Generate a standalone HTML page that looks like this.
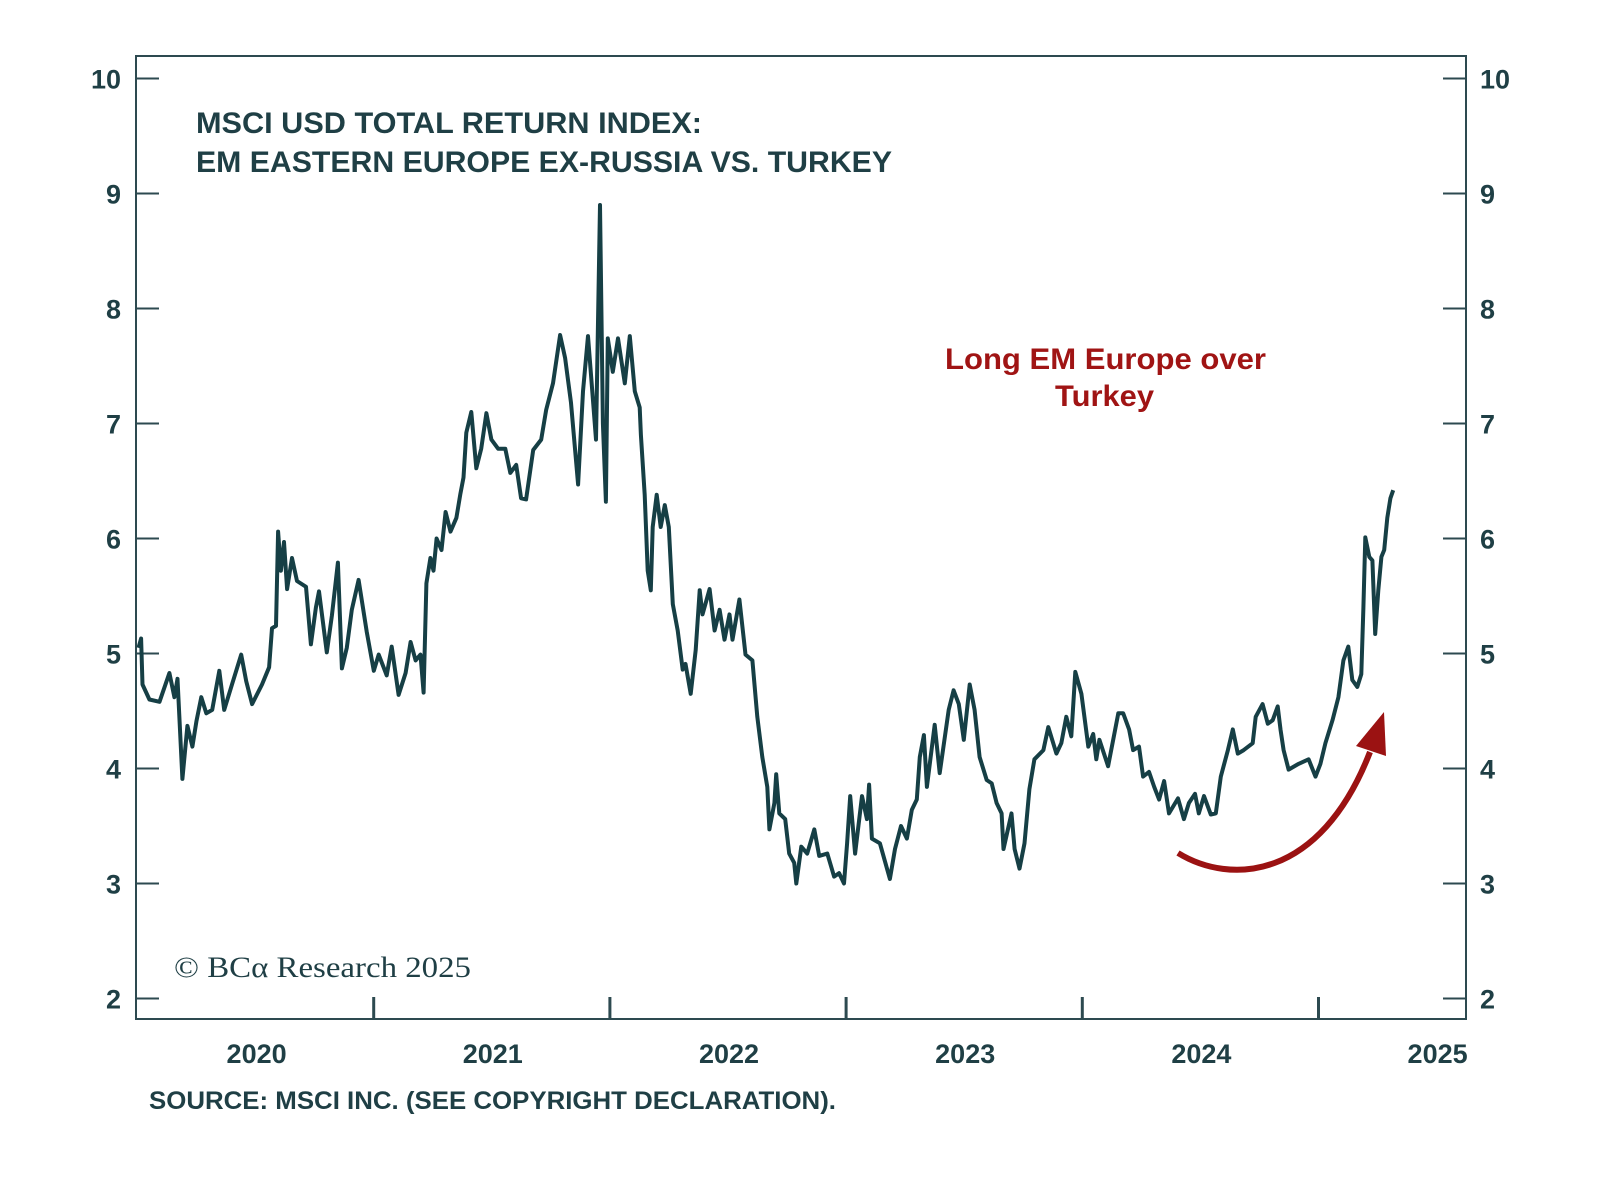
<!DOCTYPE html>
<html><head><meta charset="utf-8"><style>
html,body{margin:0;padding:0;background:#fff;}
svg{display:block;}
</style></head><body>
<svg id="chart" width="1600" height="1200" viewBox="0 0 1600 1200" xmlns="http://www.w3.org/2000/svg">
<rect x="0" y="0" width="1600" height="1200" fill="#fff"/>
<rect x="136" y="56" width="1330" height="963" fill="none" stroke="#2d4a50" stroke-width="2"/>
<g id="axes"></g>
<path id="series" fill="none" stroke="#163f45" stroke-width="4" stroke-linejoin="round"/>
<text x="196" y="133" font-family="Liberation Sans, sans-serif" font-size="30" font-weight="bold" fill="#1f3f45" textLength="506" lengthAdjust="spacingAndGlyphs">MSCI USD TOTAL RETURN INDEX:</text>
<text x="196" y="172" font-family="Liberation Sans, sans-serif" font-size="30" font-weight="bold" fill="#1f3f45" textLength="696" lengthAdjust="spacingAndGlyphs">EM EASTERN EUROPE EX-RUSSIA VS. TURKEY</text>
<text x="945" y="369" font-family="Liberation Sans, sans-serif" font-size="30" font-weight="bold" fill="#a01414" textLength="321" lengthAdjust="spacingAndGlyphs">Long EM Europe over</text>
<text x="1055" y="406" font-family="Liberation Sans, sans-serif" font-size="30" font-weight="bold" fill="#a01414" textLength="99" lengthAdjust="spacingAndGlyphs">Turkey</text>
<path d="M1178,853 C1230,885 1320,881 1370,752" fill="none" stroke="#9b1212" stroke-width="6"/>
<polygon points="1384,712 1356,746 1386,756" fill="#9b1212"/>
<text x="174" y="977" font-family="Liberation Serif, serif" font-size="30" fill="#1f3f45" textLength="297" lengthAdjust="spacingAndGlyphs">© BCα Research 2025</text>
<text x="149" y="1109" font-family="Liberation Sans, sans-serif" font-size="25" font-weight="bold" fill="#1f3f45" textLength="687" lengthAdjust="spacingAndGlyphs">SOURCE: MSCI INC. (SEE COPYRIGHT DECLARATION).</text>
</svg>
<script>
const yTicks = [2,3,4,5,6,7,8,9,10];
const yearLabels = ["2020","2021","2022","2023","2024","2025"];
const yearTicks = [2021,2022,2023,2024,2025];
const dates = [2020.0,2020.011,2020.017,2020.046,2020.089,2020.131,2020.152,2020.165,2020.186,2020.207,2020.228,2020.245,2020.266,2020.287,2020.312,2020.342,2020.363,2020.397,2020.435,2020.456,2020.481,2020.523,2020.553,2020.565,2020.582,2020.591,2020.603,2020.616,2020.629,2020.650,2020.671,2020.709,2020.730,2020.751,2020.764,2020.797,2020.819,2020.844,2020.861,2020.882,2020.903,2020.932,2020.966,2020.996,2021.017,2021.051,2021.072,2021.101,2021.131,2021.152,2021.173,2021.194,2021.207,2021.219,2021.236,2021.249,2021.262,2021.283,2021.300,2021.321,2021.346,2021.363,2021.376,2021.388,2021.409,2021.430,2021.451,2021.473,2021.494,2021.523,2021.553,2021.574,2021.599,2021.620,2021.641,2021.671,2021.705,2021.726,2021.755,2021.785,2021.806,2021.831,2021.861,2021.882,2021.903,2021.924,2021.937,2021.954,2021.966,2021.979,2021.987,2022.008,2022.030,2022.059,2022.080,2022.101,2022.122,2022.127,2022.143,2022.156,2022.169,2022.177,2022.194,2022.211,2022.228,2022.245,2022.262,2022.283,2022.304,2022.316,2022.338,2022.359,2022.376,2022.388,2022.418,2022.439,2022.460,2022.481,2022.502,2022.515,2022.544,2022.570,2022.599,2022.620,2022.641,2022.662,2022.671,2022.692,2022.700,2022.713,2022.738,2022.755,2022.776,2022.785,2022.806,2022.831,2022.861,2022.882,2022.916,2022.945,2022.966,2022.987,2023.000,2023.013,2023.034,2023.063,2023.084,2023.093,2023.105,2023.139,2023.181,2023.203,2023.228,2023.253,2023.274,2023.295,2023.308,2023.325,2023.338,2023.371,2023.392,2023.430,2023.451,2023.473,2023.494,2023.519,2023.540,2023.561,2023.591,2023.612,2023.633,2023.654,2023.662,2023.696,2023.709,2023.730,2023.751,2023.772,2023.793,2023.831,2023.852,2023.886,2023.907,2023.928,2023.949,2023.966,2023.992,2024.021,2024.042,2024.055,2024.068,2024.105,2024.135,2024.148,2024.169,2024.194,2024.211,2024.236,2024.253,2024.278,2024.300,2024.321,2024.342,2024.363,2024.401,2024.426,2024.447,2024.473,2024.489,2024.511,2024.540,2024.561,2024.582,2024.612,2024.633,2024.654,2024.679,2024.717,2024.730,2024.759,2024.781,2024.802,2024.823,2024.835,2024.848,2024.869,2024.911,2024.954,2024.983,2025.004,2025.025,2025.055,2025.080,2025.101,2025.122,2025.139,2025.160,2025.177,2025.186,2025.194,2025.211,2025.224,2025.236,2025.249,2025.262,2025.274,2025.287,2025.300,2025.312];
const values = [5.05,5.13,4.73,4.60,4.58,4.83,4.62,4.78,3.91,4.37,4.19,4.41,4.62,4.48,4.51,4.85,4.51,4.74,4.99,4.76,4.56,4.73,4.88,5.22,5.24,6.06,5.72,5.97,5.56,5.83,5.63,5.58,5.08,5.40,5.54,5.01,5.33,5.79,4.87,5.05,5.38,5.64,5.19,4.85,4.99,4.81,5.06,4.64,4.83,5.10,4.94,4.99,4.66,5.61,5.83,5.72,6.00,5.90,6.23,6.06,6.18,6.39,6.53,6.92,7.10,6.61,6.78,7.09,6.86,6.78,6.78,6.57,6.64,6.35,6.34,6.77,6.86,7.12,7.35,7.77,7.57,7.18,6.47,7.28,7.76,7.21,6.86,8.90,7.00,6.32,7.74,7.45,7.74,7.35,7.76,7.28,7.14,6.90,6.38,5.72,5.55,6.10,6.38,6.10,6.29,6.10,5.43,5.20,4.86,4.91,4.65,5.03,5.55,5.34,5.56,5.20,5.38,5.12,5.34,5.12,5.47,4.99,4.94,4.45,4.10,3.84,3.47,3.70,3.95,3.61,3.56,3.26,3.18,3.00,3.32,3.26,3.47,3.24,3.26,3.06,3.09,3.00,3.35,3.76,3.26,3.76,3.56,3.86,3.39,3.35,3.04,3.30,3.50,3.39,3.64,3.73,4.10,4.29,3.84,4.38,3.96,4.51,4.68,4.56,4.25,4.73,4.51,4.10,3.90,3.87,3.70,3.61,3.30,3.61,3.30,3.13,3.35,3.82,4.08,4.16,4.36,4.13,4.22,4.45,4.28,4.84,4.65,4.19,4.30,4.08,4.25,4.02,4.34,4.48,4.48,4.34,4.16,4.19,3.93,3.97,3.84,3.73,3.89,3.61,3.74,3.56,3.70,3.78,3.61,3.76,3.60,3.61,3.93,4.16,4.34,4.13,4.16,4.22,4.45,4.56,4.39,4.42,4.54,4.34,4.16,3.99,4.04,4.08,3.93,4.04,4.22,4.42,4.62,4.94,5.06,4.77,4.71,4.82,5.40,6.01,5.84,5.81,5.17,5.55,5.84,5.90,6.18,6.35,6.42];

const NS = "http://www.w3.org/2000/svg";
const PL = 136, PR = 1466, PT = 56, PB = 1019;
function xScale(t){ return 138.5 + (t - 2020) * 236.2; }
function yScale(v){ return 78.5 + (10 - v) * 115.0; }
const axes = document.getElementById('axes');
const ff = "Liberation Sans, sans-serif";
function mk(tag, attrs){ const e = document.createElementNS(NS, tag); for (const k in attrs) e.setAttribute(k, attrs[k]); return e; }

yTicks.forEach(v => {
  const y = yScale(v);
  const tl = mk('line', {x1:PL, x2:PL+23, y1:y, y2:y, stroke:'#2d4a50', 'stroke-width':2});
  
  
  axes.appendChild(tl);
  const tr = mk('line', {x1:PR-23, x2:PR, y1:y, y2:y, stroke:'#2d4a50', 'stroke-width':2});
  
  
  axes.appendChild(tr);
  const ll = mk('text', {x:121, y:y+10, 'text-anchor':'end', 'font-family':ff, 'font-size':27, 'font-weight':'bold', fill:'#1f3f45'});
  ll.textContent = String(v);
  
  
  axes.appendChild(ll);
  const lr = mk('text', {x:1480, y:y+10, 'font-family':ff, 'font-size':27, 'font-weight':'bold', fill:'#1f3f45'});
  lr.textContent = String(v);
  
  
  axes.appendChild(lr);
});
yearTicks.forEach(t => {
  const x = xScale(t) - 1;
  const tk = mk('line', {x1:x, x2:x, y1:PB, y2:PB-22, stroke:'#2d4a50', 'stroke-width':3});
  
  
  axes.appendChild(tk);
});
yearLabels.forEach(s => {
  const x = xScale(+s + 0.5);
  const lb = mk('text', {x:x, y:1063, 'text-anchor':'middle', 'font-family':ff, 'font-size':27, 'font-weight':'bold', fill:'#1f3f45'});
  lb.textContent = s;
  
  
  axes.appendChild(lb);
});
let d = '';
dates.forEach((t, i) => { d += (i ? 'L' : 'M') + xScale(t).toFixed(1) + ',' + yScale(values[i]).toFixed(1); });
document.getElementById('series').setAttribute('d', d);
</script>
</body></html>
